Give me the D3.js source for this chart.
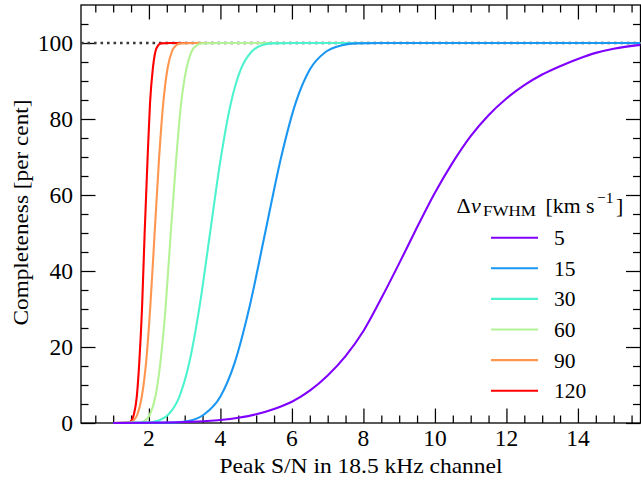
<!DOCTYPE html>
<html><head><meta charset="utf-8">
<script src="https://cdn.jsdelivr.net/npm/d3@7/dist/d3.min.js"></script>
<style>body{margin:0;background:#fff}</style>
</head><body>
<svg id="chart" width="641" height="480"></svg>
<script>
// ---- data ----
const seriesLabels = ["5", "15", "30", "60", "90", "120"];
const seriesColors = ["#8000ff", "#1a96f3", "#4df3ce", "#b3f396", "#ff964f", "#ff0000"];

const sn5  = [1.0, 2.0, 3.0, 4.0, 4.5, 5.0, 5.5, 6.0, 6.5, 7.0, 7.5, 8.0, 8.5, 9.0, 9.5, 10.0, 10.5, 11.0, 11.5, 12.0, 12.5, 13.0, 13.5, 14.0, 14.5, 15.0, 15.75];
const c5   = [0, 0.05, 0.25, 0.8, 1.4, 2.3, 3.7, 5.6, 8.5, 12.5, 17.6, 24.2, 32.8, 42.0, 51.5, 60.6, 68.6, 75.5, 81.0, 85.4, 88.9, 91.7, 93.9, 95.8, 97.4, 98.5, 99.5];

const sn15 = [1.0, 2.7, 3.1, 3.55, 4.0, 4.4, 4.8, 5.25, 5.7, 6.1, 6.5, 6.95, 7.4, 7.8, 8.5, 15.75];
const c15  = [0, 0.1, 0.5, 2.3, 7.0, 15.9, 30.0, 50, 70.0, 84.1, 93.0, 97.7, 99.4, 99.9, 100, 100];

const sn30 = [1.0, 1.97, 2.25, 2.55, 2.85, 3.13, 3.42, 3.71, 4.0, 4.29, 4.58, 4.87, 5.15, 5.45, 6.0, 15.75];
const c30  = [0, 0.1, 0.6, 2.3, 6.9, 15.9, 30.9, 50, 69.1, 84.1, 93.3, 97.7, 99.4, 99.9, 100, 100];

const sn60 = [1.0, 1.74, 1.89, 2.03, 2.18, 2.32, 2.47, 2.61, 2.76, 2.90, 3.05, 3.19, 3.34, 3.48, 4.0, 15.75];
const c60  = [0, 0.1, 0.6, 2.3, 6.9, 15.9, 30.9, 50, 69.1, 84.1, 93.3, 97.7, 99.4, 99.9, 100, 100];

const sn90 = [1.0, 1.44, 1.56, 1.68, 1.80, 1.92, 2.04, 2.16, 2.28, 2.40, 2.52, 2.64, 2.76, 2.88, 3.3, 15.75];
const c90  = [0, 0.1, 0.6, 2.3, 6.9, 15.9, 30.9, 50, 69.1, 84.1, 93.3, 97.7, 99.4, 99.9, 100, 100];

const sn120 = [1.0, 1.43, 1.51, 1.58, 1.66, 1.73, 1.81, 1.88, 1.96, 2.03, 2.11, 2.18, 2.26, 2.33, 2.6, 15.75];
const c120  = [0, 0.1, 0.6, 2.3, 6.9, 15.9, 30.9, 50, 69.1, 84.1, 93.3, 97.7, 99.4, 99.9, 100, 100];

const xTickValues = [2, 4, 6, 8, 10, 12, 14];
const yTickValues = [0, 20, 40, 60, 80, 100];
const xDomain = [0.1, 15.75];
const yDomain = [0, 110];
const referenceLevel = 100;

const xLabel = "Peak S/N in 18.5 kHz channel";
const yLabel = "Completeness [per cent]";

// ---- layout ----
const L = 81, R = 640.5, T = 5, B = 423;
const svg = d3.select("#chart");

function serif(sel, size) {
  return sel.style("font-family", '"Liberation Serif"').style("font-size", size + "px").attr("fill", "#000");
}

const x = d3.scaleLinear().domain(xDomain).range([L, R]);
const y = d3.scaleLinear().domain(yDomain).range([B, T]);

const xs = [sn5, sn15, sn30, sn60, sn90, sn120];
const ys = [c5, c15, c30, c60, c90, c120];
const series = seriesLabels.map((lab, i) => ({
  label: lab, color: seriesColors[i],
  points: xs[i].map((v, j) => ({sn: v, c: ys[i][j]}))
}));

const xMinor = d3.range(0.5, 15.76, 0.5).filter(v => !xTickValues.includes(v));
const yMinor = d3.range(5, 110, 5).filter(v => !yTickValues.includes(v));
const MAJ = 14.5, MIN = 7.5;

// tick marks drawn from the scales (labels added separately)
function tickMarks(g, axis) {
  g.call(axis.tickFormat(""));
  g.select(".domain").remove();
  g.selectAll(".tick text").remove();
  g.selectAll(".tick line").attr("stroke", "#000").attr("stroke-width", 1.25);
}
[[d3.axisBottom(x), B, false], [d3.axisTop(x), T, false]].forEach(([ax, pos]) => {
  svg.append("g").attr("transform", `translate(0,${pos})`).call(g => tickMarks(g, ax.tickValues(xMinor).tickSize(-MIN)));
});
[[d3.axisBottom, B], [d3.axisTop, T]].forEach(([f, pos]) => {
  svg.append("g").attr("transform", `translate(0,${pos})`).call(g => tickMarks(g, f(x).tickValues(xTickValues).tickSize(-MAJ)));
});
[[d3.axisLeft, L], [d3.axisRight, R]].forEach(([f, pos]) => {
  svg.append("g").attr("transform", `translate(${pos},0)`).call(g => tickMarks(g, f(y).tickValues(yMinor).tickSize(-MIN)));
  svg.append("g").attr("transform", `translate(${pos},0)`).call(g => tickMarks(g, f(y).tickValues(yTickValues).tickSize(-MAJ)));
});

// tick labels
svg.append("g").selectAll("text").data(xTickValues).join("text")
  .attr("x", d => x(d)).attr("y", 446).attr("text-anchor", "middle")
  .call(serif, 23.5).text(d => d);
svg.append("g").selectAll("text").data(yTickValues).join("text")
  .attr("x", 73).attr("y", d => y(d) + 8).attr("text-anchor", "end")
  .call(serif, 23.5).text(d => d);

svg.append("rect").attr("x", L).attr("y", T).attr("width", R - L).attr("height", B - T)
  .attr("fill", "none").attr("stroke", "#000").attr("stroke-width", 1.3);

svg.append("clipPath").attr("id", "clip").append("rect")
  .attr("x", L).attr("y", T).attr("width", R - L).attr("height", B - T + 1.5);
const plot = svg.append("g").attr("clip-path", "url(#clip)");

plot.append("line")
  .attr("x1", x(xDomain[0])).attr("x2", x(xDomain[1]))
  .attr("y1", y(referenceLevel)).attr("y2", y(referenceLevel))
  .attr("stroke", "#3a3a3a").attr("stroke-width", 2.4).attr("stroke-dasharray", "2.6,3.9");

const line = d3.line().x(d => x(d.sn)).y(d => y(d.c)).curve(d3.curveMonotoneX);
plot.selectAll("path.curve").data(series.slice().reverse()).join("path")
  .attr("class", "curve")
  .attr("d", d => line(d.points))
  .attr("fill", "none").attr("stroke", d => d.color).attr("stroke-width", 2.1)
  .attr("stroke-linejoin", "round");

svg.append("text").attr("x", 361).attr("y", 472.5).attr("text-anchor", "middle")
  .call(serif, 21.5).attr("textLength", 283).attr("lengthAdjust", "spacingAndGlyphs").text(xLabel);
svg.append("text").attr("transform", "translate(28,212.5) rotate(-90)").attr("text-anchor", "middle")
  .call(serif, 21.5).attr("textLength", 226).attr("lengthAdjust", "spacingAndGlyphs").text(yLabel);

// legend title
serif(svg.append("text"), 22).attr("x", 456.5).attr("y", 212.5).text("Δ");
serif(svg.append("text"), 22).attr("x", 471).attr("y", 212.5).style("font-style", "italic").text("v");
serif(svg.append("text"), 15.5).attr("x", 483).attr("y", 216).attr("textLength", 53).attr("lengthAdjust", "spacingAndGlyphs").text("FWHM");
serif(svg.append("text"), 22).attr("x", 545.5).attr("y", 212.5).attr("textLength", 49).attr("lengthAdjust", "spacingAndGlyphs").text("[km s");
serif(svg.append("text"), 15.5).attr("x", 597).attr("y", 203).text("−1");
serif(svg.append("text"), 22).attr("x", 616).attr("y", 212.5).text("]");

const legY0 = 237.7, legDy = 30.6;
const leg = svg.append("g");
series.forEach((s, i) => {
  const yy = legY0 + i * legDy;
  leg.append("line").attr("x1", 491).attr("x2", 538).attr("y1", yy).attr("y2", yy)
    .attr("stroke", s.color).attr("stroke-width", 2.1);
  serif(leg.append("text"), 21.5).attr("x", 554).attr("y", yy + 7.5).text(s.label);
});
</script>
</body></html>
